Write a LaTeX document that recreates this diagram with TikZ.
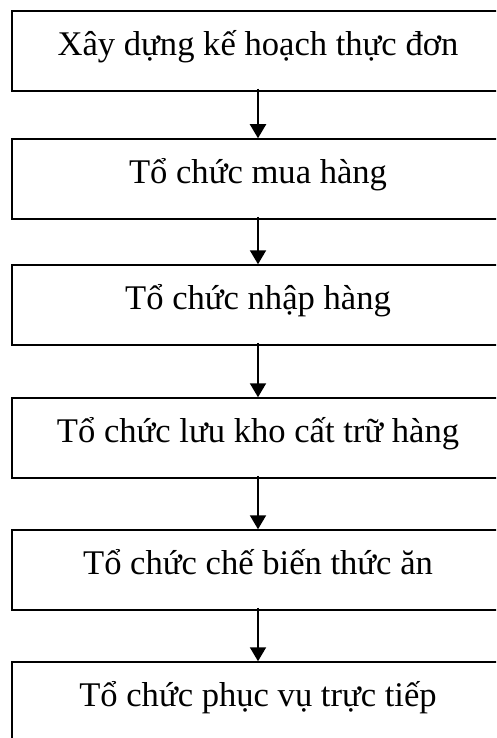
\documentclass[tikz,border=0pt]{standalone}
\usepackage{fontspec}
\setmainfont{Liberation Serif}
\usetikzlibrary{arrows.meta}
\begin{document}
\begin{tikzpicture}[x=1pt,y=-1pt,
  stepbox/.style={draw,line width=1.5pt,rectangle,minimum width=492pt,minimum height=80pt,
    inner sep=0pt,text height=20pt,text depth=11pt,font=\fontsize{34.6}{40}\selectfont},
  flow/.style={line width=2pt,-{Triangle[width=16pt,length=14pt]}}]
\useasboundingbox (0,0) rectangle (496,738);
\clip (0,0) rectangle (496,738);
\fill[white] (0,0) rectangle (496,738);
\node[stepbox] (b1) at (258,51) {Xây dựng kế hoạch thực đơn};
\node[stepbox] (b2) at (258,179) {Tổ chức mua hàng};
\node[stepbox] (b3) at (258,305) {Tổ chức nhập hàng};
\node[stepbox] (b4) at (258,438) {Tổ chức lưu kho cất trữ hàng};
\node[stepbox] (b5) at (258,570) {Tổ chức chế biến thức ăn};
\node[stepbox] (b6) at (258,702) {Tổ chức phục vụ trực tiếp};
\draw[flow] ([yshift=3pt]b1.south) -- (b2.north);
\draw[flow] ([yshift=3pt]b2.south) -- (b3.north);
\draw[flow] ([yshift=3pt]b3.south) -- (b4.north);
\draw[flow] ([yshift=3pt]b4.south) -- (b5.north);
\draw[flow] ([yshift=3pt]b5.south) -- (b6.north);
\end{tikzpicture}
\end{document}
